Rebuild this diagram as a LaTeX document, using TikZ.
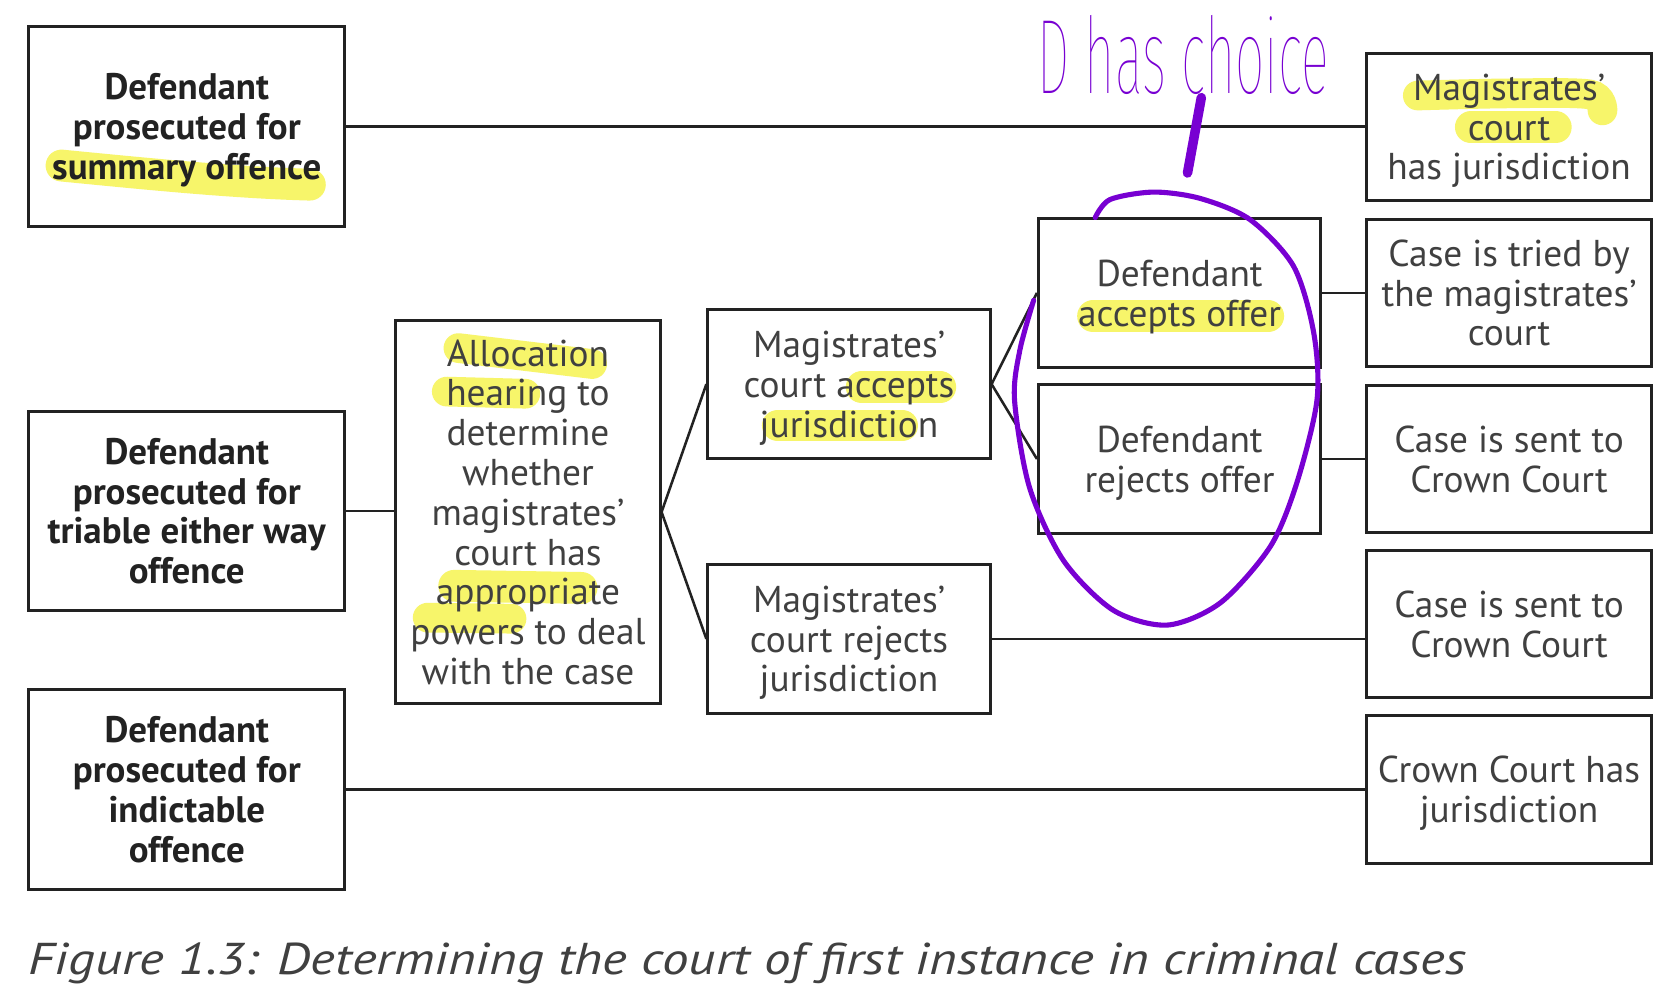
\documentclass[tikz,border=0pt]{standalone}
\usepackage{fontspec}
\setmainfont{PT Sans}
\newfontfamily\handfont{Fira Sans Thin}
\begin{document}
\begin{tikzpicture}[x=0.5pt,y=-0.5pt,
  box/.style={draw=ink,line width=1.4pt,align=center,inner sep=0pt,text=txt,
    font=\fontsize{17.6}{18.75}\selectfont,text depth=0pt},
  leftbox/.style={box,minimum width=149pt,minimum height=94pt,text=ink,
    font=\fontsize{17.4}{18.75}\selectfont\bfseries},
  midbox/.style={box,minimum width=133pt,minimum height=70pt},
  endbox/.style={box,minimum width=134pt,minimum height=69.5pt},
  link/.style={draw=ink,line width=1.2pt},
  hl/.style={draw=hly,line width=14pt,line cap=round},
  pen/.style={draw=pur,line width=2.4pt,line cap=round,line join=round}]
  \definecolor{ink}{HTML}{222222}
  \definecolor{txt}{HTML}{404040}
  \definecolor{hly}{HTML}{F7F56A}
  \definecolor{pur}{HTML}{7800D2}
  \fill[white] (0,0) rectangle (1568,942);
  \useasboundingbox (0,0) rectangle (1568,942);
  % highlighter marks
  \draw[hl,line width=15pt] (58,156) .. controls (140,164) and (220,172) .. (292,174);
  \draw[hl] plot[smooth] coordinates {(1336,90) (1420,88) (1498,89) (1510,104)};
  \draw[hl,line width=15pt] (1386,120) -- (1466,120);
  \draw[hl,line width=15pt] (1030,298) -- (1195,298);
  \draw[hl,line width=15pt] (812,365) -- (886,365);
  \draw[hl,line width=15pt] (733,401) -- (850,401);
  \draw[hl] (432,328) -- (558,343);
  \draw[hl] (421,369) -- (495,371);
  \draw[hl,line width=15pt] (428,552) -- (548,554);
  \draw[hl] (403,582) -- (482,583);
  % offences
  \node[leftbox] (summary) at (176,119) {Defendant\\prosecuted for\\summary offence};
  \node[leftbox] (eitherway) at (176,481.5) {Defendant\\prosecuted for\\triable either way\\offence};
  \node[leftbox] (indictable) at (176,744) {Defendant\\prosecuted for\\indictable\\offence};
  % allocation
  \node[box,minimum width=124.5pt,minimum height=180.5pt] (alloc) at (497.5,482.5)
    {Allocation\\hearing to\\determine\\whether\\magistrates'\\court has\\appropriate\\powers to deal\\with the case};
  \node[midbox] (magacc) at (800,362) {Magistrates'\\court accepts\\jurisdiction};
  \node[midbox] (magrej) at (800,602) {Magistrates'\\court rejects\\jurisdiction};
  \node[midbox] (dacc) at (1111.5,276) {Defendant\\accepts offer};
  \node[midbox] (drej) at (1111.5,432.5) {Defendant\\rejects offer};
  % outcomes
  \node[endbox] (magjur) at (1422,119.5) {Magistrates'\\court\\has jurisdiction};
  \node[endbox] (tried) at (1422,276) {Case is tried by\\the magistrates'\\court};
  \node[endbox] (sentA) at (1422,432.5) {Case is sent to\\Crown Court};
  \node[endbox] (sentB) at (1422,588) {Case is sent to\\Crown Court};
  \node[endbox] (crownjur) at (1422,744) {Crown Court has\\jurisdiction};
  % links
  \draw[link] (summary.east) -- (summary.east -| magjur.west);
  \draw[link] (eitherway.east) -- (eitherway.east -| alloc.west);
  \draw[link] (indictable.east) -- (indictable.east -| crownjur.west);
  \draw[link] (magacc.west) -- (alloc.east) -- (magrej.west);
  \draw[link] (dacc.west) -- (magacc.east) -- (drej.west);
  \draw[link] (dacc.east) -- (dacc.east -| tried.west);
  \draw[link] (drej.east) -- (drej.east -| sentA.west);
  \draw[link] (magrej.east) -- (magrej.east -| sentB.west);
  % caption
  \node[anchor=base west,text=txt,font=\fontsize{21}{24}\selectfont\itshape] (caption) at (20,918)
    {\scalebox{1.19}[1]{Figure 1.3: Determining the court of first instance in criminal cases}};
  % pen notes
  \node[text=pur] (choice) at (1115,52) {\scalebox{0.49}[1]{\fontsize{50}{50}\handfont D has choice}};
  \draw[pen,line width=4.5pt] (1132,92) -- (1119,163);
  \draw[pen] plot[smooth] coordinates {(1032,205) (1046,188) (1087,181) (1131,187) (1178,207)
    (1219,251) (1238,314) (1241,377) (1222,455) (1197,515) (1150,568) (1100,589)
    (1049,575) (1002,528) (970,459) (956,377) (961,330) (974,283)};
\end{tikzpicture}
\end{document}
